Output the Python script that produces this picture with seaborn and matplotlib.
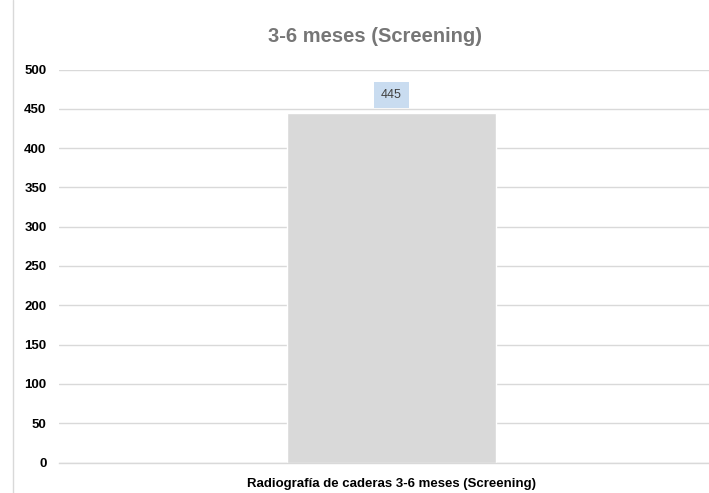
import matplotlib
matplotlib.use("Agg")
import matplotlib.pyplot as plt
import seaborn as sns
import pandas as pd

categories = ["Radiografía de caderas 3-6 meses (Screening)"]
values = [445]
title = "3-6 meses (Screening)"
yticks = [0, 50, 100, 150, 200, 250, 300, 350, 400, 450, 500]

sns.set_theme(style="white")
plt.rcParams['font.family'] = ['Liberation Sans', 'DejaVu Sans']

df = pd.DataFrame({"cat": categories, "val": values})

W, H = 709, 493
fig = plt.figure(figsize=(W / 100, H / 100), dpi=100)
left, right, top, bottom = 59, 724, 69.5, 462.5
ax = fig.add_axes([left / W, 1 - bottom / H, (right - left) / W, (bottom - top) / H])
sns.barplot(data=df, x="cat", y="val", color="#d9d9d9", width=0.313, ax=ax, saturation=1)
ax.set_xlim(-0.5, 0.5)
ax.set_ylim(0, 500)
ax.set_yticks(yticks)
ax.set_yticklabels([str(t) for t in yticks], fontsize=9.5, fontweight="bold", color="black")
ax.tick_params(axis="x", labelsize=9.5, length=0, pad=11)
for lbl in ax.get_xticklabels():
    lbl.set_fontweight("bold")
    lbl.set_color("black")
ax.tick_params(axis="y", length=0, pad=9)
ax.yaxis.grid(True, color="#d9d9d9", linewidth=1.0)
ax.set_axisbelow(True)
for s in ["top", "right", "left"]:
    ax.spines[s].set_visible(False)
ax.spines["bottom"].set_color("#d9d9d9")
ax.spines["bottom"].set_linewidth(1.0)
ax.set_xlabel("")
ax.set_ylabel("")

for p, v in zip(ax.patches, values):
    ax.annotate(str(v), (p.get_x() + p.get_width() / 2, v), xytext=(0, 8.5),
                textcoords="offset points", ha="center", va="bottom", fontsize=9,
                color="#404040",
                bbox=dict(boxstyle="square,pad=0.55", facecolor="#c9dcf0", edgecolor="none"))

fig.text(375 / W, 1 - 36 / H, title, ha="center", va="center", fontsize=14.5,
         fontweight="bold", color="#767676")
fig.add_artist(plt.Line2D([12.5 / W, 12.5 / W], [0.0, 1.0], color="#d9d9d9", linewidth=1,
                          transform=fig.transFigure))

fig.savefig("out.png", dpi=100)
